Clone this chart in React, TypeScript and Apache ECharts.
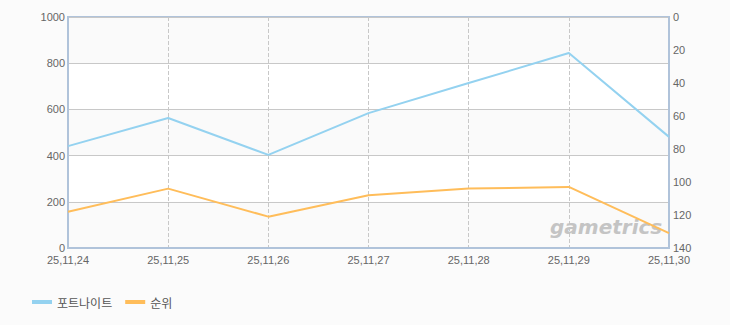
import React, { useEffect, useRef } from "react";
import * as echarts from "echarts";

const categories = ["25,11,24", "25,11,25", "25,11,26", "25,11,27", "25,11,28", "25,11,29", "25,11,30"];
const fortniteValues = [441, 563, 403, 584, 714, 844, 481];
const rankValues = [118, 104, 121, 108, 104, 103, 131];
const seriesNames = ["포트나이트", "순위"];
const seriesColors = ["#94d2f0", "#ffbd5a"];

export default function App() {
  const ref = useRef<HTMLDivElement>(null);
  useEffect(() => {
    document.body.style.margin = "0";
    const chart = echarts.init(ref.current!, null, { renderer: "svg" });
    const axisLine = { show: true, lineStyle: { color: "#b0c3da", width: 2 } };
    const labelFont = { color: "#666", fontSize: 11, fontFamily: "Liberation Sans" };
    chart.setOption({
      animation: false,
      backgroundColor: "#fbfbfb",
      grid: {
        left: 68,
        right: 61,
        top: 17,
        bottom: 77,
        show: true,
        borderColor: "#b0c3da",
        borderWidth: 2,
        backgroundColor: "transparent",
      },
      legend: {
        left: 27,
        top: 291,
        itemWidth: 20,
        itemHeight: 4,
        itemGap: 13,
        textStyle: { color: "#555", fontSize: 12, fontFamily: "Noto Sans CJK KR" },
        data: seriesNames.map((n) => ({ name: n, icon: "rect" })),
      },
      xAxis: {
        type: "category",
        data: categories,
        boundaryGap: false,
        axisLine,
        axisTick: { show: false },
        axisLabel: { ...labelFont, margin: 6, interval: 0 },
        splitLine: { show: true, lineStyle: { color: "#c8c8c8", type: "dashed", width: 1 } },
      },
      yAxis: [
        {
          type: "value",
          min: 0,
          max: 1000,
          interval: 200,
          axisLine,
          axisTick: { show: false },
          axisLabel: { ...labelFont, margin: 3, formatter: (v: number) => String(v) },
          splitLine: { show: true, lineStyle: { color: "#c8c8c8", width: 1 } },
          splitArea: { show: true, areaStyle: { color: ["#fafafa", "#ffffff"] } },
        },
        {
          type: "value",
          min: 0,
          max: 140,
          interval: 20,
          inverse: true,
          axisLine,
          axisTick: { show: false },
          axisLabel: { ...labelFont, margin: 4 },
          splitLine: { show: false },
        },
      ],
      graphic: [
        {
          type: "text",
          x: 550,
          y: 217,
          z: 1,
          style: {
            text: "gametrics",
            fill: "#c4c4c4",
            font: "italic bold 20px 'DejaVu Sans'",
          },
        },
      ],
      series: seriesNames.map((name, i) => ({
        name,
        type: "line",
        data: i === 0 ? fortniteValues : rankValues,
        yAxisIndex: i,
        symbol: "none",
        legendIcon: "rect",
        lineStyle: { color: seriesColors[i], width: 2 },
        itemStyle: { color: seriesColors[i] },
        z: 3,
      })),
    });
    return () => chart.dispose();
  }, []);
  return <div ref={ref} style={{ width: 730, height: 325 }} />;
}
